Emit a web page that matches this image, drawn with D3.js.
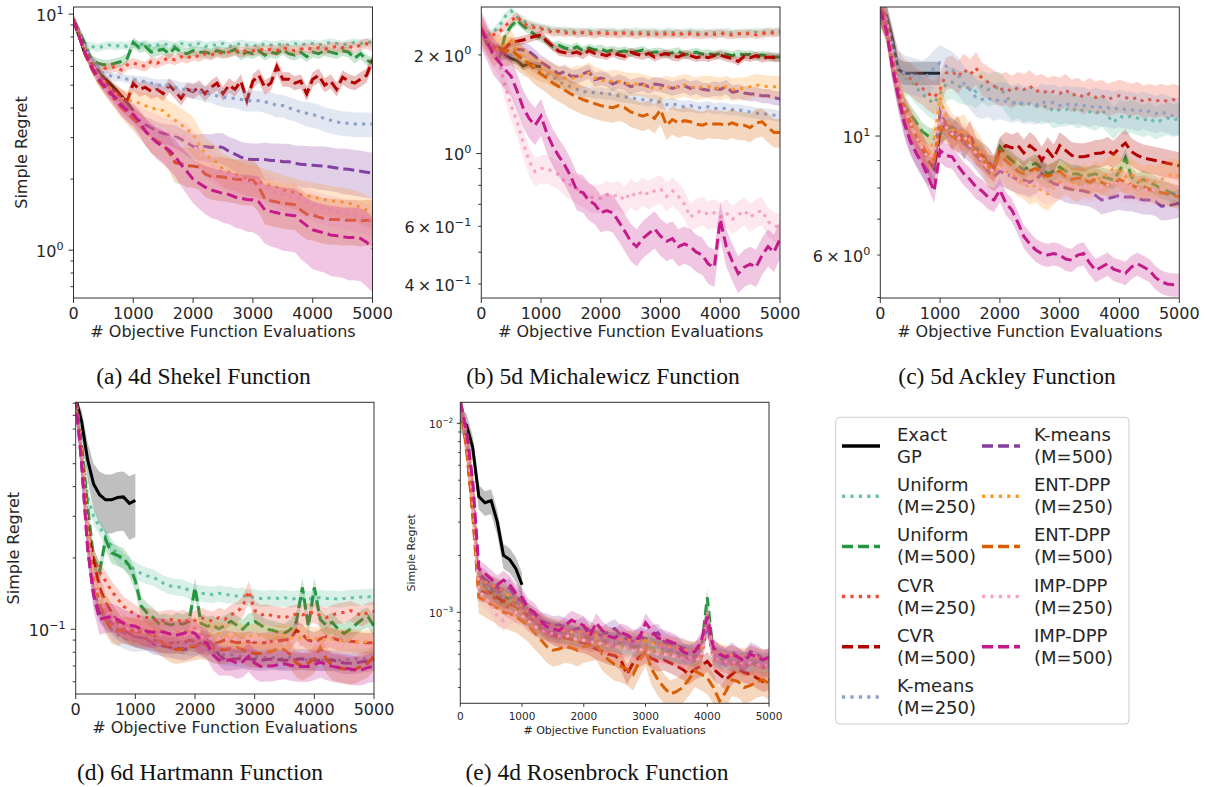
<!DOCTYPE html>
<html>
<head>
<meta charset="utf-8">
<script src="https://cdn.jsdelivr.net/npm/d3@7"></script>
<style>
  body { margin: 0; background: #fff; }
  svg { display: block; }
</style>
</head>
<body>
<div id="chart"></div>
<script>
// sampling grid: every 100 evaluations, exact GP only up to 1000
const evals = d3.range(0, 5001, 100);
const exactEvals = d3.range(0, 1001, 100);

const methods = [
  ["Exact", "GP"], ["Uniform", "(M=250)"], ["Uniform", "(M=500)"], ["CVR", "(M=250)"], ["CVR", "(M=500)"],
  ["K-means", "(M=250)"], ["K-means", "(M=500)"], ["ENT-DPP", "(M=250)"], ["ENT-DPP", "(M=500)"],
  ["IMP-DPP", "(M=250)"], ["IMP-DPP", "(M=500)"]
];

// rows in method order; spread = band half width in % of the mean (one number = same all along)
const shekelMean = [
  [9.5,8.0,6.7,6.2,5.8,5.4,5.1,4.8,4.5,4.2,3.9],
  [9.4,8.3,7.4,7.3,7.2,7.3,7.4,7.3,7.4,7.3, 7.5,7.4,7.5,7.3,7.4,7.5,7.4,7.3,7.5,7.4, 7.4,7.5,7.3,7.4,7.4,7.5,7.3,7.4,7.5,7.4, 7.4,7.3,7.5,7.4,7.4,7.5,7.4,7.5,7.4,7.5, 7.5,7.4,7.5,7.6,7.5,7.4,7.5,7.6,7.5,7.6, 7.6],
  [9.4,8.4,7.4,6.4,6.2,6.1,6.1,6.2,6.3,6.5, 7.6,7.2,7.3,6.9,7.0,7.1,6.8,7.2,6.9,6.8, 7.0,6.9,6.9,6.8,7.0,6.9,6.9,7.1,6.7,6.9, 6.8,7.0,6.7,6.9,6.8,7.1,6.8,6.7,6.9,6.6, 6.9,6.8,7.0,6.9,6.8,7.0,6.9,6.5,6.8,6.4, 6.2],
  [9.4,8.2,7.0,6.4,6.0,5.9,5.9,6.0,5.8,6.1, 6.2,6.1,6.0,6.3,6.2,6.4,6.5,6.4,6.6,6.5, 6.7,6.6,6.8,6.7,6.9,6.8,6.9,7.0,6.9,7.0, 7.0,7.1,7.0,7.1,7.0,7.2,7.1,7.0,7.1,7.2, 7.1,7.2,7.1,7.2,7.3,7.2,7.3,7.2,7.4,7.5, 7.3],
  [9.4,8.2,7.0,6.2,5.7,5.3,5.0,4.7,4.5,4.3, 5.1,4.8,4.9,4.7,4.8,4.6,5.0,4.7,4.4,4.8, 4.7,4.9,4.6,4.9,5.1,4.6,5.0,4.8,5.2,4.3, 5.2,5.5,4.9,5.1,6.0,5.3,5.3,5.1,5.2,4.6, 5.3,5.5,5.0,5.2,4.8,5.4,5.2,5.1,5.3,5.5, 6.4],
  [9.4,8.2,7.2,6.5,6.0,5.6,5.5,5.4,5.4,5.3, 5.3,5.2,5.2,5.1,5.0,5.0,5.0,4.9,4.8,4.8, 4.75,4.7,4.6,4.6,4.5,4.45,4.4,4.4,4.35,4.3, 4.3,4.3,4.25,4.2,4.1,4.1,4.0,3.95,3.85,3.8, 3.75,3.7,3.6,3.55,3.5,3.45,3.45,3.42,3.42,3.42, 3.42],
  [9.4,8.0,6.8,6.1,5.6,5.2,4.8,4.5,4.2,3.95, 3.75,3.55,3.4,3.3,3.2,3.12,3.1,3.05,2.95,2.85, 2.75,2.74,2.75,2.72,2.75,2.72,2.62,2.55,2.48,2.43, 2.42,2.42,2.42,2.40,2.40,2.37,2.37,2.33,2.31,2.30, 2.29,2.28,2.27,2.25,2.23,2.21,2.20,2.18,2.16,2.14, 2.12],
  [9.4,8.1,6.9,6.2,5.6,5.2,4.9,4.6,4.4,4.3, 4.3,4.2,4.1,4.0,3.95,3.9,3.7,3.55,3.4,3.25, 3.1,2.8,2.55,2.45,2.35,2.2,2.15,2.1,2.05,2.0, 1.98,1.95,1.92,1.88,1.85,1.8,1.78,1.75,1.72,1.7, 1.68,1.66,1.64,1.62,1.61,1.6,1.58,1.56,1.52,1.48, 1.43],
  [9.4,8.0,6.7,5.9,5.3,4.9,4.6,4.3,4.0,3.8, 3.6,3.4,3.2,3.0,2.9,2.8,2.6,2.35,2.32,2.28, 2.27,2.25,2.1,2.05,2.05,2.04,2.02,2.0,1.99,1.98, 1.98,1.85,1.65,1.62,1.6,1.58,1.57,1.56,1.48,1.42, 1.41,1.38,1.36,1.35,1.35,1.34,1.34,1.34,1.33,1.34, 1.34],
  [9.4,8.1,6.9,6.1,5.5,5.0,4.6,4.3,4.1,3.9, 3.8,3.65,3.5,3.4,3.3,3.2,3.15,3.1,3.05,3.0, 2.8,2.6,2.4,2.3,2.2,2.15,2.1,2.05,2.0,1.97, 1.93,1.9,1.85,1.8,1.75,1.72,1.7,1.67,1.64,1.6, 1.56,1.53,1.5,1.48,1.46,1.44,1.42,1.41,1.4,1.37, 1.34],
  [9.4,8.0,6.8,6.0,5.4,5.0,4.7,4.4,4.1,3.9, 3.75,3.5,3.2,3.0,2.85,2.75,2.65,2.5,2.3,2.15, 2.0,1.92,1.85,1.8,1.77,1.74,1.72,1.68,1.66,1.64, 1.63,1.6,1.48,1.46,1.44,1.42,1.41,1.4,1.33,1.27, 1.22,1.2,1.18,1.16,1.15,1.14,1.13,1.13,1.12,1.08, 1.02]
];
const shekelSpread = [
  3, 4, 5, 5, 7,
  [1,2,3,3,4,4,4,4,4,4, 4,5,5,5,6,6,6,7,7,7, 8,8,8,8,9,9,9,9,10,10, 10,10,10,11,11,11,11,11,11,12, 12,12,12,12,12,12,12,12,12,12, 12],
  [1,2,3,3,4,5,5,6,6,7, 7,8,8,9,9,10,10,11,11,12, 12,13,13,14,14,15,15,16,16,17, 17,17,18,18,18,19,19,19,20,20, 20,21,21,21,21,22,22,22,22,22, 22],
  [1,2,3,4,5,6,7,8,9,10, 11,12,13,14,15,16,16,17,17,18, 18,18,18,17,17,16,16,15,15,15, 15,15,15,15,15,15,15,15,15,15, 15,15,15,15,15,15,15,15,15,15, 15],
  [1,2,3,4,5,6,7,8,9,10, 11,12,13,14,15,16,17,18,18,19, 19,20,20,20,21,21,21,21,22,22, 22,22,22,22,22,22,22,22,22,22, 22,22,22,22,22,22,22,22,22,22, 22],
  [1,2,3,4,5,6,7,8,9,10, 11,12,12,13,13,14,14,15,15,15, 15,15,15,15,15,15,15,15,15,15, 15,15,15,15,15,15,15,15,15,15, 15,15,15,15,15,15,15,15,15,15, 15],
  [1,2,3,4,5,6,7,8,9,10, 11,12,13,14,15,16,17,18,19,20, 21,22,23,24,24,25,25,26,26,27, 27,28,28,29,29,30,30,30,31,31, 32,32,32,33,33,33,34,34,34,35, 35]
];

const michalMean = [
  [2.40,2.15,2.10,2.10,2.00,1.95,1.92,1.85,1.88,1.85,1.84],
  [2.40,2.30,2.35,2.45,2.62,2.72,2.62,2.55,2.48,2.45, 2.42,2.40,2.38,2.36,2.37,2.35,2.36,2.34,2.36,2.35, 2.34,2.36,2.35,2.33,2.35,2.34,2.36,2.33,2.35,2.34, 2.33,2.35,2.34,2.32,2.34,2.35,2.33,2.34,2.32,2.34, 2.33,2.35,2.33,2.32,2.34,2.33,2.35,2.34,2.36,2.35, 2.36],
  [2.40,2.20,2.10,1.95,2.30,2.45,2.55,2.45,2.38,2.30, 2.25,2.20,2.12,2.14,2.10,2.08,2.12,2.06,2.10,2.07, 2.09,2.05,2.07,2.04,2.06,2.03,2.05,2.07,2.02,2.04, 2.04,2.01,2.03,2.05,2.00,2.02,2.04,2.01,2.02,2.00, 2.02,2.01,1.99,2.02,2.00,2.01,1.98,2.00,1.99,1.97, 1.97],
  [2.40,2.25,2.30,2.35,2.45,2.55,2.62,2.50,2.45,2.42, 2.40,2.38,2.34,2.36,2.33,2.35,2.32,2.34,2.33,2.31, 2.34,2.32,2.33,2.31,2.33,2.32,2.30,2.33,2.31,2.32, 2.30,2.32,2.31,2.33,2.30,2.32,2.31,2.30,2.32,2.31, 2.33,2.31,2.30,2.32,2.31,2.33,2.30,2.32,2.34,2.33, 2.35],
  [2.40,2.20,2.12,2.05,2.10,2.18,2.20,2.22,2.25,2.28, 2.30,2.20,2.12,2.05,2.03,2.02,2.04,2.00,2.06,2.02, 2.01,1.99,2.03,2.00,1.98,2.04,2.01,1.99,2.02,1.97, 2.00,2.02,1.98,1.97,2.01,1.99,1.96,1.98,1.96,1.99, 2.00,1.97,1.95,1.91,1.98,1.96,1.99,1.95,1.97,1.96, 1.96],
  [2.4,2.2,2.08,2.0,2.02,2.0,1.97,1.92,1.88,1.82, 1.78,1.74,1.71,1.66,1.62,1.6,1.57,1.54,1.55,1.53, 1.53,1.52,1.52,1.5,1.49,1.48,1.47,1.46,1.45,1.46, 1.43,1.41,1.42,1.4,1.39,1.4,1.38,1.38,1.39,1.37, 1.38,1.37,1.36,1.36,1.35,1.34,1.33,1.32,1.32,1.31, 1.3],
  [2.4,2.2,2.05,2.0,2.05,2.08,2.08,2.07,2.05,1.98, 1.9,1.85,1.8,1.75,1.78,1.72,1.72,1.75,1.78,1.68, 1.7,1.68,1.63,1.66,1.64,1.6,1.62,1.63,1.6,1.63, 1.62,1.6,1.58,1.6,1.61,1.58,1.6,1.57,1.56,1.58, 1.57,1.6,1.54,1.55,1.53,1.52,1.52,1.5,1.5,1.48, 1.47],
  [2.4,2.2,2.1,2.08,2.15,2.2,2.05,1.95,1.88,1.84, 1.8,1.78,1.74,1.72,1.7,1.69,1.72,1.72,1.76,1.7, 1.68,1.65,1.67,1.66,1.64,1.63,1.63,1.62,1.6,1.58, 1.58,1.6,1.58,1.6,1.62,1.6,1.58,1.6,1.6,1.59, 1.58,1.6,1.57,1.58,1.58,1.6,1.62,1.61,1.6,1.6, 1.6],
  [2.4,2.2,2.05,2.1,2.05,2.07,2.0,1.93,1.88,1.8, 1.75,1.7,1.64,1.6,1.56,1.52,1.49,1.46,1.44,1.42, 1.4,1.39,1.38,1.4,1.38,1.34,1.32,1.3,1.32,1.28, 1.36,1.22,1.27,1.24,1.26,1.25,1.23,1.22,1.24,1.23, 1.23,1.22,1.24,1.22,1.22,1.2,1.24,1.25,1.2,1.16, 1.16],
  [2.4,2.2,2.05,1.9,1.6,1.4,1.25,1.08,0.95,0.88, 0.9,0.9,0.88,0.86,0.82,0.8,0.78,0.76,0.74,0.73, 0.73,0.75,0.74,0.75,0.72,0.76,0.74,0.77,0.75,0.77, 0.78,0.74,0.77,0.74,0.7,0.64,0.66,0.67,0.65,0.66, 0.64,0.66,0.63,0.65,0.67,0.64,0.66,0.67,0.62,0.6, 0.6],
  [2.4,2.2,2.0,1.9,1.8,1.72,1.55,1.38,1.28,1.22, 1.3,1.15,1.05,0.98,0.92,0.85,0.77,0.76,0.72,0.7, 0.66,0.67,0.66,0.62,0.58,0.54,0.52,0.55,0.57,0.59, 0.56,0.54,0.55,0.52,0.53,0.52,0.5,0.49,0.46,0.45, 0.63,0.52,0.47,0.43,0.45,0.46,0.45,0.49,0.52,0.5, 0.55]
];
const michalSpread = [3, 3, 3, 3, 3, 4, 5, 8, 10, 10, 13];

const ackleyMean = [
  [17.2,16.8,15.2,13.3,13.1,13.1,13.1,13.1,13.1,13.1,13.1],
  [17.2,16.5,14.5,13.0,12.8,12.7,12.3,12.0,11.7,11.5, 12.0,12.5,12.6,12.4,12.3,12.3,12.1,12.4,12.2,12.3, 12.3,11.9,11.5,11.6,11.4,11.5,11.4,11.3,11.4,11.1, 11.2,11.2,11.3,11.1,11.2,11.1,11.0,11.2,10.9,10.6, 10.9,10.8,10.9,10.8,10.7,10.8,10.6,10.7,10.8,10.7, 10.8],
  [17.2,16.0,13.6,12.0,11.4,11.0,10.6,10.2,10.0,9.9, 10.1,10.3,10.4,10.2,9.95,9.7,9.5,9.3,8.9,8.8, 9.55,9.2,9.0,8.8,8.64,8.8,8.9,8.7,8.5,8.6, 8.75,8.6,8.5,8.5,8.4,8.45,8.5,8.4,8.35,8.28, 8.6,9.1,8.4,8.2,8.3,8.2,8.1,7.95,7.9,7.8, 7.7],
  [17.2,16.5,14.8,13.5,13.0,12.8,12.5,12.3,12.0,11.8, 12.2,13.1,13.2,12.9,13.3,13.0,13.4,12.8,12.6,12.4, 12.2,12.3,12.1,12.3,12.2,12.4,12.1,12.2,12.0,12.1, 12.0,12.2,11.9,12.0,11.8,12.0,11.8,11.9,11.7,11.8, 11.9,11.8,11.7,11.8,11.6,11.7,11.6,11.7,11.6,11.7, 11.6],
  [17.2,16.3,14.0,12.2,11.2,10.6,10.0,9.5,9.0,8.7, 10.2,10.5,10.0,10.3,9.6,10.1,9.4,9.2,9.0,8.7, 9.4,9.6,9.5,9.6,9.3,9.6,9.4,9.0,9.4,9.1, 9.6,9.4,9.2,9.15,9.15,9.2,9.28,9.3,9.4,9.25, 9.5,9.7,9.35,9.2,9.1,9.05,9.0,8.95,8.9,8.85, 8.8],
  [17.2,16.5,14.8,13.4,13.1,13.0,12.9,12.8,13.0,13.4, 13.7,13.5,13.3,13.0,12.5,12.2,11.8,11.7,11.8,11.6, 11.7,11.6,11.5,11.6,11.45,11.5,11.4,11.6,11.5,11.55, 11.4,11.5,11.4,11.45,11.4,11.3,11.4,11.3,11.3,11.2, 11.3,11.2,11.2,11.1,11.2,11.1,11.0,11.1,11.0,10.9, 10.9],
  [17.2,16.0,13.5,11.8,10.6,9.8,9.3,8.9,8.6,8.7, 11.1,10.5,10.2,9.9,9.7,9.5,9.2,8.9,8.6,8.4, 8.6,8.5,8.4,8.3,8.28,8.2,8.3,8.5,8.3,8.15, 8.1,8.0,7.95,7.93,7.9,7.85,7.75,7.6,7.65,7.7, 7.75,7.7,7.7,7.65,7.6,7.6,7.55,7.4,7.42,7.45, 7.5],
  [17.2,16.0,13.8,12.2,11.3,10.6,10.1,9.6,9.3,9.8, 11.8,10.8,10.3,10.1,10.3,9.8,9.6,9.2,8.6,8.5, 8.9,8.6,8.5,8.3,8.2,8.0,8.1,7.9,7.8,8.0, 8.2,8.4,8.2,8.1,8.3,8.2,8.4,8.3,8.5,8.7, 8.6,8.4,8.5,8.3,8.2,8.3,8.2,8.3,8.4,8.5, 8.4],
  [17.2,16.0,13.7,12.1,11.2,10.5,10.0,9.6,9.2,9.0, 10.4,10.2,10.0,9.8,9.9,9.6,9.3,9.1,8.8,8.7, 9.2,9.0,8.8,8.6,8.5,8.6,8.7,8.5,8.4,8.5, 8.6,8.4,8.3,8.35,8.3,8.2,8.3,8.2,8.1,8.15, 8.3,8.2,8.1,8.0,8.05,7.95,7.9,7.85,7.8,7.75, 7.7],
  [17.2,16.2,14.0,12.3,11.3,10.6,10.0,9.5,9.1,9.3, 10.8,10.4,10.1,9.9,10.0,9.6,9.3,9.0,8.7,8.6, 8.8,8.6,8.4,8.3,8.2,8.1,8.2,8.0,7.9,8.0, 8.1,8.2,8.1,8.0,8.1,8.0,8.1,8.0,8.1,8.2, 8.1,8.0,8.1,8.0,7.9,8.0,7.9,8.0,8.0,8.1, 8.0],
  [17.2,15.8,13.5,11.9,10.6,9.8,9.3,8.9,8.4,7.9, 9.4,9.2,9.15,8.8,8.5,8.3,8.04,7.9,7.7,7.6, 7.93,7.5,7.28,6.9,6.5,6.3,6.13,6.04,6.0,6.04, 6.0,5.9,5.87,6.0,6.04,5.8,5.62,5.7,5.78,5.65, 5.6,5.55,5.7,5.78,5.7,5.62,5.45,5.35,5.3,5.28, 5.28]
];
const ackleySpread = [5, 7, 4, 7, 6, 8, 6, 7, 5, 6, 5];

const hartMean = [
  [0.95,0.75,0.52,0.41,0.37,0.352,0.352,0.36,0.362,0.34,0.35],
  [0.95,0.6,0.36,0.3,0.27,0.245,0.225,0.205,0.195,0.185, 0.178,0.172,0.168,0.166,0.16,0.155,0.152,0.151,0.15,0.146, 0.143,0.142,0.141,0.14,0.142,0.14,0.14,0.138,0.139,0.136, 0.137,0.135,0.135,0.136,0.135,0.136,0.134,0.135,0.135,0.134, 0.135,0.136,0.135,0.135,0.134,0.135,0.136,0.136,0.137,0.137, 0.138],
  [0.95,0.6,0.33,0.2,0.175,0.24,0.21,0.205,0.2,0.185, 0.16,0.125,0.117,0.112,0.105,0.106,0.104,0.107,0.105,0.108, 0.15,0.106,0.103,0.104,0.1,0.104,0.108,0.104,0.1,0.106, 0.108,0.104,0.1,0.099,0.097,0.096,0.1,0.108,0.15,0.103, 0.15,0.11,0.104,0.107,0.1,0.096,0.1,0.105,0.11,0.113, 0.103],
  [0.95,0.55,0.28,0.2,0.175,0.16,0.145,0.135,0.125,0.12, 0.115,0.112,0.112,0.11,0.108,0.109,0.11,0.108,0.11,0.107, 0.109,0.112,0.11,0.108,0.112,0.11,0.115,0.118,0.125,0.145, 0.12,0.115,0.116,0.114,0.113,0.112,0.114,0.116,0.115,0.117, 0.118,0.114,0.112,0.115,0.117,0.118,0.12,0.117,0.114,0.118, 0.119],
  [0.95,0.55,0.27,0.19,0.15,0.13,0.118,0.108,0.1,0.096, 0.093,0.092,0.091,0.09,0.089,0.088,0.0875,0.088,0.087,0.09, 0.089,0.087,0.086,0.087,0.088,0.09,0.089,0.088,0.088,0.089, 0.088,0.0875,0.088,0.089,0.0895,0.09,0.091,0.099,0.095,0.09, 0.0885,0.091,0.093,0.092,0.09,0.0895,0.089,0.0885,0.088,0.0875, 0.088],
  [0.95,0.5,0.24,0.155,0.125,0.11,0.1,0.095,0.092,0.09, 0.089,0.09,0.09,0.089,0.088,0.088,0.087,0.088,0.087,0.086, 0.086,0.085,0.083,0.08,0.079,0.078,0.078,0.077,0.077,0.076, 0.077,0.076,0.076,0.076,0.075,0.075,0.076,0.075,0.075,0.074, 0.075,0.074,0.074,0.074,0.074,0.074,0.075,0.075,0.075,0.076, 0.0755],
  [0.95,0.5,0.22,0.14,0.118,0.112,0.106,0.1,0.097,0.095, 0.093,0.092,0.09,0.087,0.086,0.085,0.084,0.083,0.082,0.083, 0.085,0.088,0.09,0.086,0.078,0.0745,0.0745,0.075,0.0755,0.075, 0.0745,0.074,0.0745,0.075,0.0745,0.074,0.074,0.0745,0.075,0.0745, 0.074,0.074,0.0742,0.0742,0.073,0.072,0.0719,0.072,0.073,0.0735, 0.0742],
  [0.95,0.55,0.26,0.17,0.14,0.125,0.115,0.108,0.103,0.1, 0.1,0.099,0.098,0.099,0.097,0.098,0.096,0.097,0.098,0.1, 0.101,0.098,0.097,0.095,0.096,0.094,0.095,0.096,0.094,0.093, 0.095,0.094,0.093,0.092,0.093,0.094,0.092,0.091,0.093,0.092, 0.091,0.092,0.09,0.091,0.09,0.089,0.09,0.089,0.088,0.089, 0.088],
  [0.95,0.55,0.25,0.16,0.13,0.11,0.1,0.098,0.1,0.099, 0.098,0.097,0.096,0.095,0.09,0.086,0.083,0.082,0.083,0.084, 0.085,0.086,0.085,0.083,0.082,0.082,0.083,0.084,0.082,0.08, 0.079,0.079,0.08,0.081,0.083,0.082,0.078,0.072,0.07,0.072, 0.075,0.084,0.075,0.07,0.069,0.068,0.067,0.068,0.07,0.072, 0.077],
  [0.95,0.55,0.26,0.165,0.135,0.12,0.112,0.106,0.102,0.1, 0.099,0.098,0.097,0.096,0.095,0.095,0.094,0.095,0.094,0.093, 0.094,0.093,0.092,0.091,0.092,0.091,0.09,0.091,0.09,0.089, 0.09,0.089,0.088,0.089,0.088,0.087,0.088,0.087,0.086,0.087, 0.086,0.087,0.086,0.085,0.086,0.085,0.086,0.085,0.084,0.085, 0.085],
  [0.95,0.5,0.22,0.14,0.11,0.112,0.113,0.11,0.106,0.104, 0.103,0.1,0.098,0.097,0.098,0.097,0.095,0.0946,0.096,0.098, 0.096,0.09,0.0873,0.078,0.0742,0.0742,0.074,0.0719,0.073,0.077, 0.072,0.0697,0.07,0.07,0.071,0.0715,0.0705,0.07,0.0697,0.0697, 0.071,0.0725,0.071,0.0697,0.069,0.0685,0.068,0.0673,0.0675,0.069, 0.0697]
];
const hartSpread = [[0,12,18,22,25,28,28,28,28,30,30], 8, 10, 10, 10, 10, 10, 12, 13, 10, 14];

const rosenMean = [
  [0.0105,0.0098,0.0075,0.0041,0.0038,0.0039,0.003,0.002,0.0019,0.0017,0.0014],
  [0.013,0.0085,0.0045,0.0015,0.0014,0.00135,0.0013,0.00125,0.0012,0.00112, 0.00105,0.00098,0.0009,0.00085,0.00082,0.0008,0.00078,0.0008,0.00076,0.00074, 0.00075,0.00072,0.00071,0.00073,0.0007,0.00069,0.00068,0.0007,0.00067,0.00066, 0.00068,0.00066,0.00065,0.00063,0.00064,0.00062,0.0006,0.00061,0.00059,0.0006, 0.001,0.0006,0.00058,0.00057,0.00055,0.00056,0.00054,0.00055,0.00056,0.00054, 0.00055],
  [0.013,0.0085,0.0042,0.0014,0.00135,0.0013,0.00125,0.0012,0.00118,0.0011, 0.00105,0.00095,0.00088,0.00082,0.0008,0.00079,0.00078,0.00077,0.00076,0.00075, 0.00074,0.00073,0.00072,0.00071,0.0007,0.0007,0.00068,0.00067,0.00066,0.00066, 0.00067,0.00065,0.00064,0.00063,0.00062,0.00061,0.0006,0.00059,0.00058,0.00062, 0.0012,0.0006,0.00057,0.00056,0.00055,0.00054,0.00055,0.00053,0.00054,0.00052, 0.00053],
  [0.013,0.008,0.004,0.0016,0.0013,0.0012,0.00118,0.0011,0.00105,0.001, 0.00098,0.0009,0.00086,0.00082,0.0008,0.00079,0.00076,0.00077,0.00074,0.00073, 0.00072,0.0007,0.00071,0.00069,0.00068,0.00067,0.00065,0.00066,0.00064,0.00063, 0.00065,0.00063,0.00062,0.00061,0.0006,0.00059,0.00058,0.00057,0.00058,0.00057, 0.00085,0.00056,0.00055,0.00054,0.00053,0.00054,0.00052,0.00053,0.00052,0.00051, 0.00052],
  [0.013,0.0075,0.0035,0.0013,0.00128,0.00126,0.0012,0.00115,0.0011,0.00107, 0.001,0.00095,0.0009,0.00087,0.0008,0.00076,0.00074,0.00073,0.00072,0.0007, 0.00069,0.00067,0.00064,0.00062,0.0006,0.00059,0.00056,0.00047,0.00054,0.00058, 0.00061,0.00057,0.00055,0.00056,0.00054,0.00052,0.0005,0.00047,0.0005,0.00052, 0.00055,0.0005,0.00047,0.00044,0.00047,0.0005,0.00048,0.00047,0.00045,0.00043, 0.00044],
  [0.013,0.0085,0.0043,0.0014,0.00138,0.0013,0.00125,0.0012,0.00115,0.0011, 0.00105,0.00096,0.0009,0.00086,0.00083,0.0008,0.00079,0.00078,0.00077,0.00075, 0.00076,0.00074,0.00073,0.00072,0.00071,0.0007,0.00069,0.00068,0.00069,0.00067, 0.00068,0.00066,0.00065,0.00064,0.00063,0.00062,0.00061,0.0006,0.0006,0.00061, 0.0009,0.0006,0.00058,0.00057,0.00056,0.00056,0.00055,0.00056,0.00055,0.00054, 0.00055],
  [0.013,0.009,0.0048,0.0016,0.0015,0.0014,0.00135,0.0013,0.00135,0.0012, 0.00115,0.001,0.00095,0.0009,0.00088,0.00085,0.00086,0.00083,0.0008,0.00082, 0.00084,0.0008,0.00077,0.00075,0.00079,0.00082,0.00076,0.00072,0.0007,0.00075, 0.00072,0.00076,0.00078,0.0007,0.00068,0.00066,0.00065,0.00063,0.00062,0.00066, 0.00085,0.00064,0.0006,0.00058,0.00062,0.00058,0.00056,0.00062,0.0006,0.00057, 0.00056],
  [0.013,0.009,0.0046,0.0015,0.00145,0.0014,0.00135,0.0013,0.00122,0.00115, 0.00108,0.001,0.00093,0.00088,0.00085,0.00083,0.00082,0.0008,0.00079,0.00078, 0.00079,0.00077,0.00076,0.00075,0.00074,0.00073,0.00072,0.00071,0.00072,0.0007, 0.00071,0.00069,0.00068,0.00067,0.00066,0.00065,0.00064,0.00063,0.00063,0.00064, 0.00095,0.00063,0.00061,0.0006,0.00059,0.00058,0.00058,0.00059,0.00058,0.00057, 0.00057],
  [0.013,0.0075,0.0033,0.0012,0.00115,0.0011,0.00105,0.001,0.00098,0.00095, 0.0009,0.00085,0.00078,0.00072,0.00066,0.00063,0.00064,0.00066,0.00065,0.00063, 0.00066,0.00067,0.00068,0.0006,0.00056,0.00053,0.00052,0.0005,0.00047,0.00055, 0.00063,0.0005,0.00044,0.0004,0.00037,0.00038,0.0004,0.00044,0.00049,0.00047, 0.00045,0.0004,0.00034,0.00038,0.00044,0.00043,0.0004,0.00041,0.00043,0.00044, 0.00042],
  [0.013,0.0082,0.004,0.0013,0.0012,0.0011,0.00095,0.0009,0.00098,0.001, 0.00096,0.0009,0.00085,0.00081,0.00078,0.00077,0.00075,0.00076,0.00073,0.00072, 0.00071,0.0007,0.00069,0.00068,0.00067,0.00066,0.00065,0.00064,0.00063,0.00064, 0.00062,0.00061,0.0006,0.0006,0.00059,0.00058,0.00057,0.00058,0.00056,0.00057, 0.001,0.00057,0.00056,0.00055,0.00054,0.00055,0.00053,0.00054,0.00053,0.00052, 0.00053],
  [0.013,0.009,0.005,0.0017,0.0016,0.0015,0.0014,0.00148,0.0014,0.00126, 0.0012,0.00105,0.001,0.0009,0.00084,0.00082,0.0008,0.00085,0.00091,0.00088, 0.00085,0.00075,0.00088,0.0008,0.00075,0.00073,0.00078,0.00076,0.00072,0.00073, 0.00088,0.0008,0.00073,0.00072,0.0007,0.00068,0.00062,0.0006,0.00062,0.0007, 0.00095,0.00065,0.0006,0.00058,0.0006,0.00058,0.00055,0.0006,0.00058,0.00056, 0.00058]
];
const rosenSpread = [15, 12, 12, 12, 12, 12, 12, 12, 18, 12, 12];

// y tick labels: [value, coefficient, exponent]
const shekelYLabels = [[1, "", "0"], [10, "", "1"]];
const michalYLabels = [[2, "2", "0"], [1, "", "0"], [0.6, "6", "\u22121"], [0.4, "4", "\u22121"]];
const ackleyYLabels = [[10, "", "1"], [6, "6", "0"]];
const hartYLabels = [[0.1, "", "\u22121"]];
const rosenYLabels = [[0.01, "", "\u22122"], [0.001, "", "\u22123"]];
const xTickValues = [0, 1000, 2000, 3000, 4000, 5000];

const colors = ["#000000", "#66c2a5", "#23963f", "#ef4a32", "#b30000", "#8da0cb",
                "#8440a0", "#fe9929", "#d95f02", "#f7a3bf", "#c51b8a"];
const dashes = [null, "3.2,5.2", "11,5", "3.2,5.2", "11,5", "3.2,5.2", "11,5", "3.2,5.2", "11,5", "3.2,5.2", "11,5"];

const W = 1205, H = 787;
const svg = d3.select("#chart").append("svg")
  .attr("width", W).attr("height", H)
  .style("font-family", "'DejaVu Sans', sans-serif");

const panels = [
  {id: "a", mean: shekelMean, spread: shekelSpread, labels: shekelYLabels, box: [73.5, 7, 372.5, 298],
   yDomain: [0.627, 10.72], fs: 16, ylabelX: 27, caption: "(a) 4d Shekel Function", capX: 203.5, capY: 384},
  {id: "b", mean: michalMean, spread: michalSpread, labels: michalYLabels, box: [481.3, 7, 780, 298],
   yDomain: [0.3625, 2.80], fs: 16, ylabelX: null, caption: "(b) 5d Michalewicz Function", capX: 603, capY: 384},
  {id: "c", mean: ackleyMean, spread: ackleySpread, labels: ackleyYLabels, box: [880.3, 7, 1179.3, 298],
   yDomain: [4.99, 17.4], fs: 16, ylabelX: null, caption: "(c) 5d Ackley Function", capX: 1007, capY: 384},
  {id: "d", mean: hartMean, spread: hartSpread, labels: hartYLabels, box: [75.7, 402.3, 374, 694],
   yDomain: [0.0533, 0.908], fs: 16, ylabelX: 19, caption: "(d) 6d Hartmann Function", capX: 200, capY: 780},
  {id: "e", mean: rosenMean, spread: rosenSpread, labels: rosenYLabels, box: [460.3, 402.3, 769, 703.3],
   yDomain: [0.00033, 0.01292], fs: 10.5, ylabelX: 415, caption: "(e) 4d Rosenbrock Function", capX: 597, capY: 780}
];

const ink = "#262626";

panels.forEach(p => {
  const [x0, y0, x1, y1] = p.box;
  const x = d3.scaleLinear().domain([0, 5000]).range([x0, x1]);
  const y = d3.scaleLog().domain(p.yDomain).range([y1, y0]);
  const g = svg.append("g");

  g.append("clipPath").attr("id", "clip-" + p.id)
    .append("rect").attr("x", x0).attr("y", y0).attr("width", x1 - x0).attr("height", y1 - y0);
  const plot = g.append("g").attr("clip-path", `url(#clip-${p.id})`);

  p.mean.forEach((m, i) => {
    const xs = i === 0 ? exactEvals : evals;
    const s = p.spread[i];
    const pts = m.map((v, k) => {
      const sp = (Array.isArray(s) ? s[k] : s) / 100;
      return {e: xs[k], v: v, lo: Math.max(v * (1 - sp), 1e-6), hi: v * (1 + sp)};
    });
    plot.append("path").datum(pts)
      .attr("fill", colors[i]).attr("fill-opacity", 0.25).attr("stroke", "none")
      .attr("d", d3.area().x(d => x(d.e)).y0(d => y(d.lo)).y1(d => y(d.hi)));
    plot.append("path").datum(pts)
      .attr("fill", "none").attr("stroke", colors[i]).attr("stroke-width", 3)
      .attr("stroke-dasharray", dashes[i])
      .attr("d", d3.line().x(d => x(d.e)).y(d => y(d.v)));
  });

  g.append("rect").attr("x", x0).attr("y", y0).attr("width", x1 - x0).attr("height", y1 - y0)
    .attr("fill", "none").attr("stroke", "#333").attr("stroke-width", 1);

  const small = p.fs < 12;
  const tl = small ? 3.5 : 5;
  // x ticks
  xTickValues.forEach(t => {
    g.append("line").attr("x1", x(t)).attr("x2", x(t)).attr("y1", y1).attr("y2", y1 + tl)
      .attr("stroke", "#333").attr("stroke-width", 1);
    g.append("text").attr("x", x(t)).attr("y", y1 + (small ? 17 : 21))
      .attr("text-anchor", "middle").attr("font-size", p.fs).attr("fill", ink).text(t);
  });
  g.append("text").attr("x", (x0 + x1) / 2).attr("y", y1 + (small ? 31 : 39))
    .attr("text-anchor", "middle").attr("font-size", small ? 11 : 16).attr("fill", ink)
    .text("# Objective Function Evaluations");

  // y ticks: majors at decades, minors elsewhere
  y.ticks().forEach(t => {
    const major = Math.abs(Math.log10(t) - Math.round(Math.log10(t))) < 1e-9;
    const len = major ? tl : tl * 0.6;
    g.append("line").attr("x1", x0 - len).attr("x2", x0).attr("y1", y(t)).attr("y2", y(t))
      .attr("stroke", "#333").attr("stroke-width", 1);
  });
  p.labels.forEach(([v, coef, ex]) => {
    const t = g.append("text").attr("x", x0 - (small ? 7 : 10)).attr("y", y(v) + p.fs * 0.42)
      .attr("text-anchor", "end").attr("font-size", p.fs).attr("fill", ink);
    t.append("tspan").text(coef ? coef + "\u2009\u00d7\u200910" : "10");
    t.append("tspan").attr("dy", -p.fs * 0.45).attr("font-size", p.fs * 0.7).text(ex);
  });

  if (p.ylabelX !== null) {
    g.append("text").attr("transform", `translate(${p.ylabelX},${(y0 + y1) / 2}) rotate(-90)`)
      .attr("text-anchor", "middle").attr("font-size", small ? 11 : 16).attr("fill", ink)
      .text("Simple Regret");
  }

  svg.append("text").attr("x", p.capX).attr("y", p.capY).attr("text-anchor", "middle")
    .attr("font-family", "'Liberation Serif', 'Times New Roman', serif").attr("font-size", 23.5)
    .attr("fill", "#111").text(p.caption);
});

// legend
const leg = svg.append("g");
leg.append("rect").attr("x", 835.7).attr("y", 417.3).attr("width", 293.3).attr("height", 306.7)
  .attr("rx", 4).attr("fill", "#fff").attr("stroke", "#cccccc").attr("stroke-width", 1);
methods.forEach((m, i) => {
  const col = i < 6 ? 0 : 1;
  const row = i < 6 ? i : i - 6;
  const lx = col === 0 ? 842 : 982;
  const tx = col === 0 ? 897 : 1034;
  const cy = 446 + row * 50.2;
  leg.append("line").attr("x1", lx).attr("x2", lx + 38).attr("y1", cy).attr("y2", cy)
    .attr("stroke", colors[i]).attr("stroke-width", 3.5).attr("stroke-dasharray", dashes[i]);
  const t = leg.append("text").attr("font-size", 18).attr("fill", ink);
  t.append("tspan").attr("x", tx).attr("y", cy - 5).text(m[0]);
  t.append("tspan").attr("x", tx).attr("y", cy + 17).text(m[1]);
});
</script>
</body>
</html>
